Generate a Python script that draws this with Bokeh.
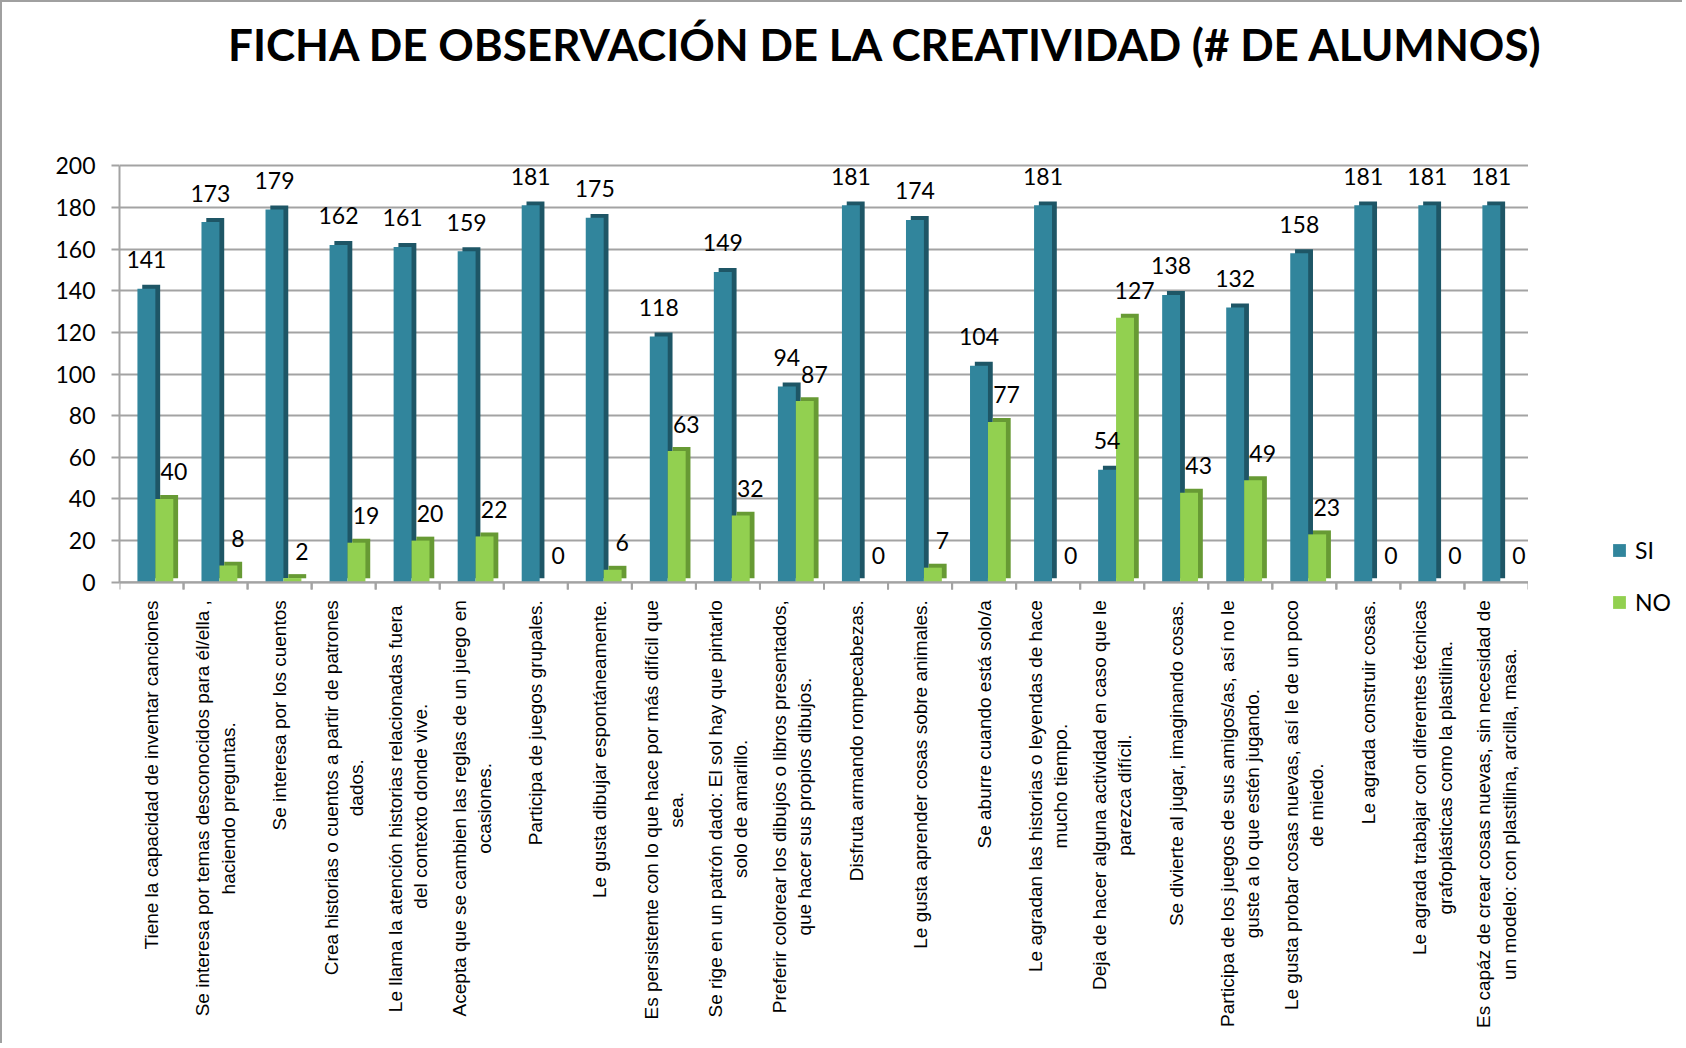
import math
from bokeh.plotting import figure
from bokeh.layouts import column, row
from bokeh.models import ColumnDataSource, FactorRange, Range1d, Legend, LegendItem, FixedTicker, Span, Div
from bokeh.transform import dodge
from bokeh.embed import file_html
from bokeh.resources import INLINE
from bokeh.core.properties import value

# ---------------- data ----------------
labels = [
    "Tiene la capacidad de inventar canciones",
    "Se interesa por temas desconocidos para él/ella ,\nhaciendo preguntas.",
    "Se interesa por los cuentos",
    "Crea historias o cuentos a partir de patrones\ndados.",
    "Le llama la atención historias relacionadas  fuera\ndel contexto donde vive.",
    "Acepta que se cambien las reglas de un juego en\nocasiones.",
    "Participa de juegos grupales.",
    "Le gusta dibujar espontáneamente.",
    "Es persistente con lo que hace por más difícil que\nsea.",
    "Se rige en un patrón dado: El sol hay que pintarlo\nsolo de amarillo.",
    "Preferir colorear los dibujos o libros presentados,\nque hacer sus propios dibujos.",
    "Disfruta armando rompecabezas.",
    "Le gusta aprender cosas sobre animales.",
    "Se aburre cuando está solo/a",
    "Le agradan las historias o leyendas de hace\nmucho tiempo.",
    "Deja de hacer alguna actividad en caso que le\nparezca difícil.",
    "Se divierte al jugar, imaginando cosas.",
    "Participa de los juegos de sus amigos/as, así no le\nguste a lo que estén jugando.",
    "Le gusta probar cosas nuevas, así le de un poco\nde miedo.",
    "Le agrada construir cosas.",
    "Le agrada trabajar con diferentes técnicas\ngrafoplásticas como la plastilina.",
    "Es capáz de crear cosas nuevas, sin necesidad de\nun modelo: con plastilina, arcilla, masa.",
]
si = [141, 173, 179, 162, 161, 159, 181, 175, 118, 149, 94, 181, 174, 104, 181, 54, 138, 132, 158, 181, 181, 181]
no = [40, 8, 2, 19, 20, 22, 0, 6, 63, 32, 87, 0, 7, 77, 0, 127, 43, 49, 23, 0, 0, 0]
y_ticks = [0, 20, 40, 60, 80, 100, 120, 140, 160, 180, 200]
series_names = ["SI", "NO"]
title_text = "FICHA DE OBSERVACIÓN DE LA CREATIVIDAD (# DE ALUMNOS)"

# ---------------- styles ----------------
SI_FRONT, SI_SIDE = "#31859C", "#1E5666"
NO_FRONT, NO_SIDE = "#92D050", "#679A34"
GRID = "#a3a3a3"
DEPTH = 1.9
BAR_W = 0.28
OFF_SI, OFF_NO = -0.08, 0.20
SIDE_DX = 0.075
LBL_SIZE = 19
LBL_STANDOFF = 18

# approximate Liberation Sans (Arial metrics) advance widths, per 1000 em
_W = {" ": 278, ".": 278, ",": 278, ":": 278, "/": 278, "(": 333, ")": 333,
      "a": 556, "b": 556, "c": 500, "d": 556, "e": 556, "f": 278, "g": 556, "h": 556,
      "i": 222, "j": 222, "k": 500, "l": 222, "m": 833, "n": 556, "o": 556, "p": 556,
      "q": 556, "r": 333, "s": 500, "t": 278, "u": 556, "v": 500, "w": 722, "x": 500,
      "y": 500, "z": 500, "á": 556, "é": 556, "í": 278, "ó": 556, "ú": 556, "ñ": 556,
      "A": 667, "B": 667, "C": 722, "D": 722, "E": 667, "F": 611, "G": 778, "H": 722,
      "I": 278, "J": 500, "K": 667, "L": 556, "M": 833, "N": 722, "O": 778, "P": 667,
      "Q": 778, "R": 722, "S": 667, "T": 611, "U": 722, "V": 667, "W": 944, "X": 667,
      "Y": 667, "Z": 611}


def text_width(s, size):
    return sum(_W.get(ch, 556) for ch in s) * size / 1000.0


factors = [l.replace("\n", " ") for l in labels]
label_offsets = [LBL_STANDOFF + max(text_width(line, LBL_SIZE) for line in l.split("\n")) / 2 for l in labels]

src = ColumnDataSource(dict(
    cat=factors,
    lbl=labels,
    lbl_off=label_offsets,
    si=si, no=no,
    si_back=[v + DEPTH for v in si],
    no_back=[v + DEPTH for v in no],
    si_txt=[str(v) for v in si],
    no_txt=[str(v) for v in no],
))

p = figure(
    width=1526, height=936,
    x_range=FactorRange(*factors), y_range=Range1d(-221.5, 215.5),
    output_backend="svg", toolbar_location=None,
    min_border_left=117, min_border_right=0,
    min_border_top=26, min_border_bottom=0,
    background_fill_color="white", border_fill_color="white",
)

# bars (side faces then front faces)
p.vbar(x=dodge("cat", OFF_SI + SIDE_DX, range=p.x_range), top="si_back", bottom=DEPTH,
       width=BAR_W, source=src, fill_color=SI_SIDE, line_color=None)
p.vbar(x=dodge("cat", OFF_SI, range=p.x_range), top="si", bottom=0,
       width=BAR_W, source=src, fill_color=SI_FRONT, line_color=None)
p.vbar(x=dodge("cat", OFF_NO + SIDE_DX, range=p.x_range), top="no_back", bottom=DEPTH,
       width=BAR_W, source=src, fill_color=NO_SIDE, line_color=None)
p.vbar(x=dodge("cat", OFF_NO, range=p.x_range), top="no", bottom=0,
       width=BAR_W, source=src, fill_color=NO_FRONT, line_color=None)

# value labels
p.text(x=dodge("cat", OFF_SI, range=p.x_range), y="si", text="si_txt", source=src,
       y_offset=-29, text_align="center", text_baseline="middle",
       text_font=value("Lato"), text_font_size="23px", text_color="black")
p.text(x=dodge("cat", OFF_NO + 0.15, range=p.x_range), y="no", text="no_txt", source=src,
       y_offset=-27, text_align="center", text_baseline="middle",
       text_font=value("Lato"), text_font_size="23px", text_color="black")

# category axis: line, boundary ticks and rotated multi-line labels
p.add_layout(Span(location=0, dimension="width", line_color=GRID, line_width=2))
p.segment(x0=dodge("cat", -0.5, range=p.x_range), x1=dodge("cat", -0.5, range=p.x_range),
          y0=0, y1=-3.5, source=src, line_color=GRID, line_width=2)
p.segment(x0=dodge("cat", 0.5, range=p.x_range), x1=dodge("cat", 0.5, range=p.x_range),
          y0=0, y1=-3.5, source=src, line_color=GRID, line_width=2)
p.text(x="cat", y=0, text="lbl", source=src, y_offset="lbl_off", angle=math.pi / 2,
       text_align="center", text_baseline="middle", text_line_height=1.2,
       text_font=value("Liberation Sans"), text_font_size=f"{LBL_SIZE}px", text_color="black")
p.xaxis.visible = False

# grid / outline
p.outline_line_color = None
p.xgrid.grid_line_color = None
p.ygrid.ticker = FixedTicker(ticks=y_ticks)
p.ygrid.grid_line_color = GRID
p.ygrid.grid_line_width = 2

p.yaxis.ticker = FixedTicker(ticks=y_ticks)
p.yaxis.bounds = (0, 200)
p.yaxis.axis_line_color = GRID
p.yaxis.axis_line_width = 2
p.yaxis.major_tick_line_color = GRID
p.yaxis.major_tick_line_width = 2
p.yaxis.major_tick_out = 8
p.yaxis.major_tick_in = 0
p.yaxis.minor_tick_line_color = None
p.yaxis.major_label_text_font = "Lato"
p.yaxis.major_label_text_font_size = "23px"
p.yaxis.major_label_text_color = "black"
p.yaxis.major_label_standoff = 16

# legend in a small side figure (zero-height proxy bars carry the legend styling)
lf = figure(width=144, height=936, output_backend="svg", toolbar_location=None,
            x_range=Range1d(0, 1), y_range=Range1d(0, 1),
            x_axis_location=None, y_axis_location=None, min_border=0,
            background_fill_color="white", border_fill_color="white")
lf.outline_line_color = None
lf.grid.grid_line_color = None
leg_src = ColumnDataSource(dict(x=[0.5], top=[0]))
r_si = lf.vbar(x="x", top="top", width=0.1, source=leg_src, fill_color=SI_FRONT, line_color=None)
r_no = lf.vbar(x="x", top="top", width=0.1, source=leg_src, fill_color=NO_FRONT, line_color=None)
legend = Legend(
    items=[LegendItem(label=series_names[0], renderers=[r_si]),
           LegendItem(label=series_names[1], renderers=[r_no])],
    location=(83, 426), margin=0,
    glyph_width=16, glyph_height=16, label_height=30, spacing=22, label_standoff=8,
    label_text_font="Lato", label_text_font_size="23px", label_text_color="black",
    background_fill_alpha=0, border_line_color=None,
)
lf.add_layout(legend, "center")

# title
title = Div(
    text=(f'<div style="margin-left:221px;font-family:Lato;font-weight:bold;'
          f'font-size:44px;line-height:74px;color:black;white-space:nowrap">{title_text}</div>'),
    width=1670, height=95,
)

layout = column(title, row(p, lf, spacing=0), spacing=0,
                styles={"border-left": "2px solid #a0a0a0", "border-top": "2px solid #a0a0a0"})

open("out.html", "w").write(file_html(layout, INLINE))
